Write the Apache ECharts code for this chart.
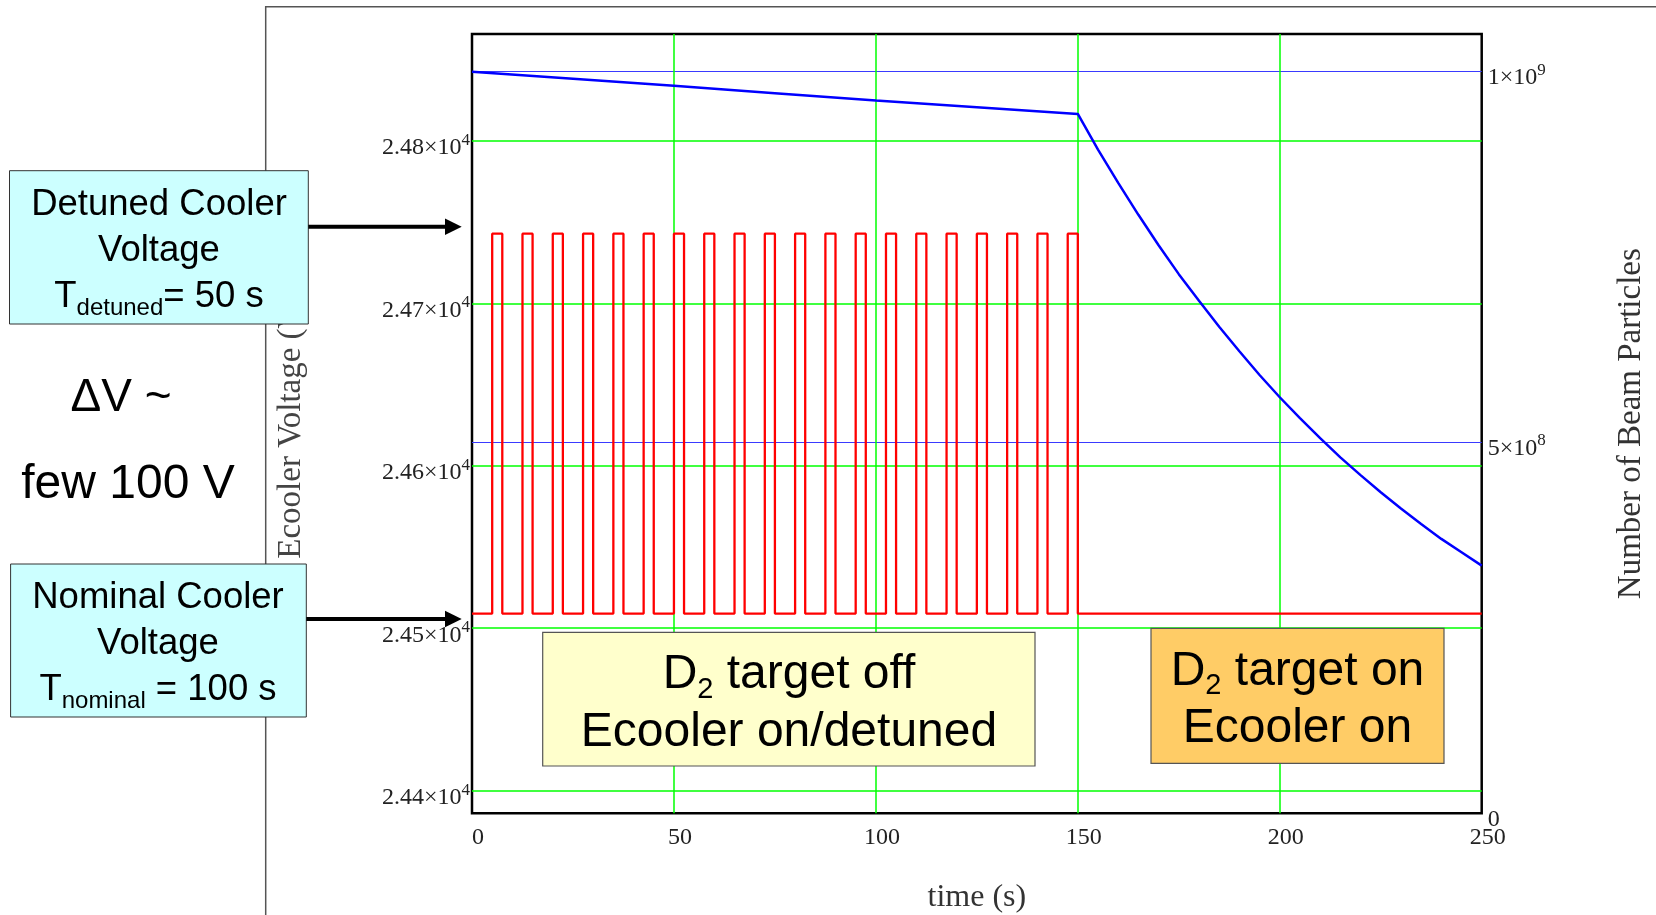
<!DOCTYPE html>
<html><head><meta charset="utf-8">
<script src="https://cdn.jsdelivr.net/npm/echarts@6/dist/echarts.min.js"></script>
<style>html,body{margin:0;padding:0;background:#fff}#c{width:1656px;height:915px}</style>
</head><body><div id="c"></div>
<script>
// ---- data ----
const pulseStart = [5,12.5,20,27.5,35,42.5,50,57.5,65,72.5,80,87.5,95,102.5,110,117.5,125,132.5,140,147.5];
const pulseEnd   = [7.5,15,22.5,30,37.5,45,52.5,60,67.5,75,82.5,90,97.5,105,112.5,120,127.5,135,142.5,150];
const vNominal = 24509;   // V
const vDetuned = 24743;   // V
const timeRange = [0, 250];
const beamTime  = [0,25,50,75,100,125,150,155,160,165,170,175,180,185,190,195,200,205,210,215,220,225,230,235,240,245,250];
const beamCount = [1.0e9,9.905e8,9.81e8,9.71e8,9.61e8,9.52e8,9.43e8,8.95e8,8.50e8,8.07e8,7.66e8,7.27e8,6.91e8,6.56e8,6.23e8,5.91e8,5.61e8,5.33e8,5.06e8,4.80e8,4.56e8,4.33e8,4.11e8,3.90e8,3.70e8,3.52e8,3.34e8];
const voltRange = [24386, 24866];
const beamRange = [0, 1.0508e9];
const xTitle = 'time (s)';
const yLeftTitle = 'Ecooler Voltage (V)';
const yRightTitle = 'Number of Beam Particles';

// ---- build series ----
const redPts = [[timeRange[0], vNominal]];
pulseStart.forEach((s, i) => {
  redPts.push([s, vNominal], [s, vDetuned], [pulseEnd[i], vDetuned], [pulseEnd[i], vNominal]);
});
redPts.push([timeRange[1], vNominal]);
const bluePts = beamTime.map((t, i) => [t, beamCount[i]]);

function sci(v, dec) {
  if (v === 0) return '{m|0}';
  const e = Math.floor(Math.log10(Math.abs(v)) + 1e-9);
  const m = v / Math.pow(10, e);
  return '{m|' + m.toFixed(dec) + '×10}{s|' + e + '}';
}
const SERIF = '"Liberation Serif", "Times New Roman", serif';
const SANS = '"Liberation Sans", Arial, sans-serif';
const richLbl = {
  m: { fontFamily: SERIF, fontSize: 24, color: '#222', lineHeight: 32 },
  s: { fontFamily: SERIF, fontSize: 17, color: '#222', lineHeight: 11, verticalAlign: 'top' }
};

const chart = echarts.init(document.getElementById('c'), null, { renderer: 'canvas' });
const option = {
  backgroundColor: '#fff',
  animation: false,
  grid: { left: 472, right: 174.3, top: 34, bottom: 101.7, show: true, borderColor: '#000', borderWidth: 2.5, backgroundColor: 'transparent', outerBoundsMode: 'none' },
  xAxis: {
    type: 'value', min: timeRange[0], max: timeRange[1], interval: 50,
    axisLine: { show: false }, axisTick: { show: false },
    axisLabel: { fontFamily: SERIF, fontSize: 24, color: '#222', margin: 12, padding: [0, 0, 0, 12] },
    splitLine: { show: true, showMinLine: false, showMaxLine: false, lineStyle: { color: '#00ff00', width: 1.5 } },
    name: xTitle, nameLocation: 'middle', nameGap: 68,
    nameTextStyle: { fontFamily: SERIF, fontSize: 32, color: '#333' }
  },
  yAxis: [{
    type: 'value', min: voltRange[0], max: voltRange[1], splitNumber: 5, position: 'left',
    axisLine: { show: false }, axisTick: { show: false },
    axisLabel: { showMinLabel: false, showMaxLabel: false, margin: 2, padding: [14, 0, 0, 0],
      formatter: v => sci(v, 2), rich: richLbl },
    splitLine: { show: true, showMinLine: false, showMaxLine: false, lineStyle: { color: '#00ff00', width: 1.5 } },
    name: yLeftTitle, nameLocation: 'middle', nameRotate: 90, nameGap: 164,
    nameTextStyle: { fontFamily: SERIF, fontSize: 33, color: '#444', padding: [0, 5, 0, 0] }
  }, {
    type: 'value', min: beamRange[0], max: beamRange[1], interval: 5e8, position: 'right',
    axisLine: { show: false }, axisTick: { show: false },
    axisLabel: { showMinLabel: true, showMaxLabel: false, margin: 6, padding: [12, 0, 0, 0],
      formatter: v => sci(v, 0), rich: richLbl },
    splitLine: { show: true, showMinLine: false, showMaxLine: false, lineStyle: { color: '#3a3aff', width: 1.2 } },
    name: yRightTitle, nameLocation: 'middle', nameRotate: 90, nameGap: 133,
    nameTextStyle: { fontFamily: SERIF, fontSize: 33, color: '#333' }
  }],
  series: [{
    name: 'Ecooler Voltage', type: 'line', yAxisIndex: 0, data: redPts,
    showSymbol: false, symbol: 'none', lineStyle: { color: '#ff0000', width: 2.3 }, z: 3
  }, {
    name: 'Beam Particles', type: 'line', yAxisIndex: 1, data: bluePts,
    showSymbol: false, symbol: 'none', lineStyle: { color: '#0000ff', width: 2.5 }, z: 4
  }],
  graphic: [
    { type: 'polyline', z: 100, shape: { points: [[265.7, 915], [265.7, 6.7], [1656, 6.7]] }, style: { stroke: '#555', lineWidth: 1.5, fill: null } },
    // detuned box
    { type: 'rect', z: 100, shape: { x: 9.5, y: 170.7, width: 298.8, height: 153.3 }, style: { fill: '#ccffff', stroke: '#333', lineWidth: 1 } },
    { type: 'text', z: 101, x: 159, y: 251, style: {
      text: '{n|Detuned Cooler}\n{n|Voltage}\n{n|T}{sub|detuned}{n|= 50 s}',
      align: 'center', verticalAlign: 'middle',
      rich: { n: { fontFamily: SANS, fontSize: 36.5, lineHeight: 46, fill: '#000' },
              sub: { fontFamily: SANS, fontSize: 24, lineHeight: 18, verticalAlign: 'bottom', fill: '#000' } } } },
    // nominal box
    { type: 'rect', z: 100, shape: { x: 10.6, y: 564, width: 295.7, height: 153 }, style: { fill: '#ccffff', stroke: '#333', lineWidth: 1 } },
    { type: 'text', z: 101, x: 158, y: 644, style: {
      text: '{n|Nominal Cooler}\n{n|Voltage}\n{n|T}{sub|nominal}{n| = 100 s}',
      align: 'center', verticalAlign: 'middle',
      rich: { n: { fontFamily: SANS, fontSize: 36.5, lineHeight: 46, fill: '#000' },
              sub: { fontFamily: SANS, fontSize: 24, lineHeight: 18, verticalAlign: 'bottom', fill: '#000' } } } },
    // delta V text
    { type: 'text', z: 101, x: 121, y: 398, style: { text: 'ΔV ~', font: '46px ' + SANS, fill: '#000', align: 'center', verticalAlign: 'middle' } },
    { type: 'text', z: 101, x: 128, y: 485, style: { text: 'few 100 V', font: '48px ' + SANS, fill: '#000', align: 'center', verticalAlign: 'middle' } },
    // arrows
    { type: 'line', z: 100, shape: { x1: 308.3, y1: 226.7, x2: 448, y2: 226.7 }, style: { stroke: '#000', lineWidth: 4 } },
    { type: 'polygon', z: 100, shape: { points: [[445, 218.5], [461.7, 226.7], [445, 234.9]] }, style: { fill: '#000' } },
    { type: 'line', z: 100, shape: { x1: 306.3, y1: 619, x2: 448, y2: 619 }, style: { stroke: '#000', lineWidth: 4 } },
    { type: 'polygon', z: 100, shape: { points: [[445, 610.8], [461.7, 619], [445, 627.2]] }, style: { fill: '#000' } },
    // yellow box
    { type: 'rect', z: 100, shape: { x: 542.7, y: 632.3, width: 492.3, height: 133.7 }, style: { fill: '#ffffcc', stroke: '#555', lineWidth: 1.2 } },
    { type: 'text', z: 101, x: 789, y: 704, style: {
      text: '{n|D}{sub|2}{n| target off}\n{n|Ecooler on/detuned}',
      align: 'center', verticalAlign: 'middle',
      rich: { n: { fontFamily: SANS, fontSize: 48, lineHeight: 58, fill: '#000' },
              sub: { fontFamily: SANS, fontSize: 29, lineHeight: 22, verticalAlign: 'bottom', fill: '#000' } } } },
    // orange box
    { type: 'rect', z: 100, shape: { x: 1151, y: 628.3, width: 293, height: 135 }, style: { fill: '#ffcc66', stroke: '#555', lineWidth: 1.2 } },
    { type: 'text', z: 101, x: 1297.5, y: 700, style: {
      text: '{n|D}{sub|2}{n| target on}\n{n|Ecooler on}',
      align: 'center', verticalAlign: 'middle',
      rich: { n: { fontFamily: SANS, fontSize: 48, lineHeight: 57, fill: '#000' },
              sub: { fontFamily: SANS, fontSize: 29, lineHeight: 22, verticalAlign: 'bottom', fill: '#000' } } } }
  ]
};
chart.setOption(option);
</script>
</body></html>
